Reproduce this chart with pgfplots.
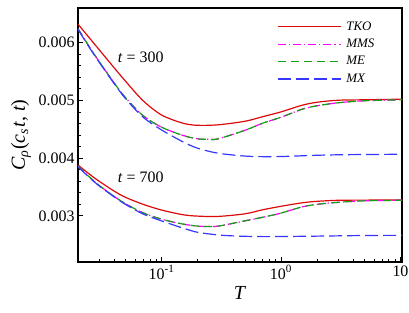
\documentclass[border=0pt]{standalone}
\usepackage{fontspec}
\setmainfont{Liberation Serif}
\usepackage{pgfplots}
\pgfplotsset{compat=1.18}
\definecolor{cTKO}{RGB}{220,10,10}
\definecolor{cMMS}{RGB}{255,0,255}
\definecolor{cME}{RGB}{20,160,20}
\definecolor{cMX}{RGB}{55,55,255}
\begin{document}
\begin{tikzpicture}
\path[use as bounding box] (-78bp,-51bp) rectangle (331bp,262bp);
\begin{axis}[
  at={(0,0)}, anchor=south west,
  scale only axis, width=324bp, height=254bp,
  xmode=log, xmin=0.02, xmax=10.3,
  ymin=0.0022, ymax=0.0066,
  axis line style={line width=1.3bp},
  tick align=inside, xtick pos=bottom, ytick pos=left,
  major tick length=5bp, minor tick length=3bp,
  tick style={black, line width=0.8bp},
  xtick={0.1,1,10},
  xticklabels={10\textsuperscript{-1},10\textsuperscript{0},10},
  minor xtick={0.02,0.03,0.04,0.05,0.06,0.07,0.08,0.09,0.2,0.3,0.4,0.5,0.6,0.7,0.8,0.9,2,3,4,5,6,7,8,9},
  ytick={0.003,0.004,0.005,0.006},
  yticklabels={0.003,0.004,0.005,0.006},
  scaled y ticks=false,
  minor y tick num=4,
  ticklabel style={font=\fontsize{16}{18}\selectfont},
  xlabel={\textit{T}},
  ylabel={\textit{C}\textsubscript{\textit{ρ}}(\textit{c}\textsubscript{\textit{s}}\hspace{1bp}\textit{t}, \textit{t})},
  label style={font=\fontsize{20}{22}\selectfont},
  xlabel style={at={(axis description cs:0.5,0)}, anchor=north, yshift=-21bp},
  ylabel style={at={(axis description cs:-0.1636,0.5)}, anchor=base},
  legend style={at={(axis description cs:0.614,0.959)}, anchor=north west,
    draw=none, fill=none, inner sep=0pt, row sep=0.9bp,
    font=\fontsize{13}{15}\selectfont\itshape,
    nodes={inner ysep=2bp, inner xsep=5bp, text height=9.5bp, text depth=3bp}},
  legend cell align=left,
  legend image code/.code={\draw[line width=1.2bp,#1] (0bp,0bp) -- (63bp,0bp);},
  every axis plot/.append style={line width=1.2bp, smooth},
]
% t = 300
\addplot[cTKO, solid] coordinates {
(0.02,0.00632) (0.025,0.006078) (0.03,0.00588) (0.04,0.005568) (0.05,0.005331)
(0.07,0.004995) (0.1,0.004747) (0.15,0.004606) (0.2,0.004568) (0.3,0.004577)
(0.5,0.004638) (0.7,0.004716) (1,0.004800) (1.5,0.004915) (2,0.004967)
(3,0.005002) (5,0.00501) (10,0.00502) (10.3,0.00502)};
\addlegendentry{TKO}
\addplot[cMMS, dash pattern=on 8bp off 3bp on 1.2bp off 3bp] coordinates {
(0.02,0.00624) (0.025,0.00592) (0.03,0.005675) (0.04,0.005306) (0.05,0.005044)
(0.07,0.004737) (0.1,0.004536) (0.15,0.004395) (0.2,0.004334) (0.25,0.004325) (0.3,0.004335)
(0.5,0.004482) (0.7,0.004603) (1,0.004707) (1.5,0.004846) (2,0.004906)
(3,0.004958) (5,0.004993) (10,0.00501) (10.3,0.00501)};
\addlegendentry{MMS}
\addplot[cME, dash pattern=on 8bp off 5bp] coordinates {
(0.02,0.00624) (0.025,0.00592) (0.03,0.005675) (0.04,0.005306) (0.05,0.005044)
(0.07,0.004737) (0.1,0.004536) (0.15,0.004395) (0.2,0.004334) (0.25,0.004325) (0.3,0.004335)
(0.5,0.004482) (0.7,0.004603) (1,0.004707) (1.5,0.004846) (2,0.004906)
(3,0.004958) (5,0.004993) (10,0.00501) (10.3,0.00501)};
\addlegendentry{ME}
\addplot[cMX, dash pattern=on 13bp off 5bp] coordinates {
(0.02,0.00623) (0.025,0.00591) (0.03,0.005665) (0.04,0.005296) (0.05,0.00503)
(0.07,0.00471) (0.1,0.004488) (0.15,0.004285) (0.2,0.004172) (0.3,0.004083)
(0.5,0.004035) (0.7,0.004025) (1,0.004027) (1.5,0.00404) (2,0.004049)
(3,0.004057) (5,0.004062) (10,0.004066) (10.3,0.004066)};
\addlegendentry{MX}
% t = 700
\addplot[cTKO, solid, forget plot] coordinates {
(0.02,0.00388) (0.025,0.00372) (0.03,0.0036) (0.04,0.00343) (0.05,0.00332)
(0.07,0.0032) (0.1,0.0031) (0.15,0.00302) (0.2,0.002995) (0.3,0.00299)
(0.5,0.003035) (0.7,0.003104) (1,0.003165) (1.5,0.003225) (2,0.003251)
(3,0.003269) (5,0.003272) (10,0.003274) (10.3,0.003274)};
\addplot[cMMS, dash pattern=on 8bp off 3bp on 1.2bp off 3bp, forget plot] coordinates {
(0.02,0.00386) (0.025,0.00367) (0.03,0.003528) (0.04,0.003338) (0.05,0.003208)
(0.07,0.003052) (0.1,0.002942) (0.15,0.002858) (0.2,0.002822) (0.25,0.002815) (0.3,0.002822)
(0.5,0.002913) (0.7,0.002974) (1,0.003047) (1.5,0.003154) (2,0.003199)
(3,0.003234) (5,0.00326) (10,0.003269) (10.3,0.003269)};
\addplot[cME, dash pattern=on 8bp off 5bp, forget plot] coordinates {
(0.02,0.00386) (0.025,0.00367) (0.03,0.003528) (0.04,0.003338) (0.05,0.003208)
(0.07,0.003052) (0.1,0.002942) (0.15,0.002858) (0.2,0.002822) (0.25,0.002815) (0.3,0.002822)
(0.5,0.002913) (0.7,0.002974) (1,0.003047) (1.5,0.003154) (2,0.003199)
(3,0.003234) (5,0.00326) (10,0.003269) (10.3,0.003269)};
\addplot[cMX, dash pattern=on 13bp off 5bp, forget plot] coordinates {
(0.02,0.00385) (0.025,0.00366) (0.03,0.00352) (0.04,0.00333) (0.05,0.003197)
(0.07,0.003032) (0.1,0.002912) (0.15,0.00279) (0.2,0.002715) (0.3,0.002668) (0.4,0.002652)
(0.5,0.002645) (0.7,0.00264) (1,0.002641) (1.5,0.002645) (2,0.002648)
(3,0.002653) (5,0.002659) (10,0.002662) (10.3,0.002662)};
\node[font=\fontsize{16}{18}\selectfont] at (axis cs:0.0671,0.005747) {\textit{t} = 300};
\node[font=\fontsize{16}{18}\selectfont] at (axis cs:0.0671,0.003667) {\textit{t} = 700};
\end{axis}
\end{tikzpicture}
\end{document}
